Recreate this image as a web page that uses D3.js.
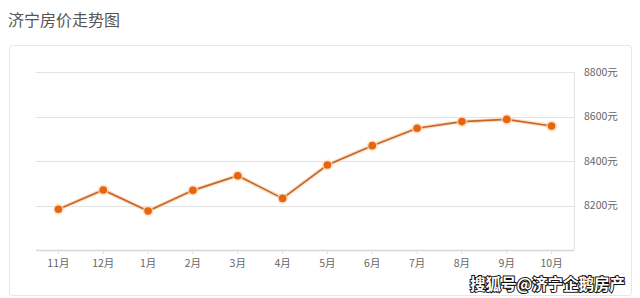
<!DOCTYPE html>
<html>
<head>
<meta charset="utf-8">
<script src="https://cdn.jsdelivr.net/npm/d3@7"></script>
<style>
  body { margin: 0; background: #fff; }
  svg { display: block; }
</style>
</head>
<body>
<svg id="chart" width="640" height="298"></svg>
<script>
// data
const months = ["11月", "12月", "1月", "2月", "3月", "4月", "5月", "6月", "7月", "8月", "9月", "10月"];
const prices = [8183, 8270, 8175, 8268, 8334, 8232, 8382, 8469, 8547, 8577, 8587, 8557];
const yTicks = [8200, 8400, 8600, 8800];
const title = "济宁房价走势图";
const watermark = "搜狐号@济宁企鹅房产";

let margin = {top: 72, right: 66, bottom: 48, left: 36},
  width = 640 - margin.left - margin.right,
  height = 298 - margin.top - margin.bottom;

let svg = d3.select("#chart");

svg.append("text")
  .attr("x", 8)
  .attr("y", 26)
  .style("font-family", "'Noto Sans CJK SC', sans-serif")
  .style("font-size", "16px")
  .style("fill", "#555")
  .text(title);

// card
svg.append("rect")
  .attr("x", 9.5)
  .attr("y", 45.5)
  .attr("width", 622)
  .attr("height", 250)
  .attr("rx", 3)
  .style("fill", "#fff")
  .style("stroke", "#e6e6e6");

let g = svg.append("g")
  .attr("transform", "translate(" + margin.left + "," + margin.top + ")");

let x = d3.scaleBand().domain(months).range([0, width]);
let y = d3.scaleLinear().domain([8000, 8800]).range([height, 0]);

// grid lines
g.selectAll(".grid")
  .data(yTicks)
  .enter().append("line")
  .attr("class", "grid")
  .attr("x1", 0)
  .attr("x2", width)
  .attr("y1", d => Math.round(y(d)) + 0.5)
  .attr("y2", d => Math.round(y(d)) + 0.5)
  .style("stroke", "#e3e3e3");

// right side line
g.append("line")
  .attr("x1", width + 0.5).attr("x2", width + 0.5)
  .attr("y1", 0).attr("y2", height)
  .style("stroke", "#e3e3e3");

// y labels
let yAxis = d3.axisRight(y).tickValues(yTicks).tickSize(0).tickPadding(10)
  .tickFormat(d => d + "元");
let yG = g.append("g")
  .attr("transform", "translate(" + width + ",0)")
  .call(yAxis);
yG.select(".domain").remove();

// x axis
let xAxis = d3.axisBottom(x).tickSize(4).tickPadding(6);
let xG = g.append("g")
  .attr("transform", "translate(0," + height + ")")
  .call(xAxis);
xG.select(".domain")
  .attr("d", "M0,0.5H" + width)
  .style("stroke", "#d6d6d6")
  .style("stroke-width", 1.5);
xG.selectAll(".tick line").style("stroke", "#ddd");

svg.selectAll(".tick text")
  .style("font-family", "'Noto Sans CJK SC', sans-serif")
  .style("font-size", "10.5px")
  .style("fill", "#666");

let px = d => x(d) + x.bandwidth() / 2;
let data = months.map((m, i) => ({m: m, v: prices[i]}));

let line = d3.line().x(d => px(d.m)).y(d => y(d.v));

// soft halo under the line
g.append("path")
  .datum(data)
  .attr("d", line)
  .style("fill", "none")
  .style("stroke", "#f8d2ae")
  .style("stroke-width", 4)
  .style("opacity", 0.7);

g.append("path")
  .datum(data)
  .attr("d", line)
  .style("fill", "none")
  .style("stroke", "#c8662a")
  .style("stroke-width", 1.6);

g.selectAll(".halo")
  .data(data)
  .enter().append("circle")
  .attr("cx", d => px(d.m))
  .attr("cy", d => y(d.v))
  .attr("r", 5.5)
  .style("fill", "#fbd9b8")
  .style("opacity", 0.7);

g.selectAll(".dot")
  .data(data)
  .enter().append("circle")
  .attr("cx", d => px(d.m))
  .attr("cy", d => y(d.v))
  .attr("r", 3.8)
  .style("fill", "#e8650f");

// watermark
svg.append("text")
  .attr("x", 625)
  .attr("y", 290)
  .style("text-anchor", "end")
  .style("font-family", "'Noto Sans CJK SC', sans-serif")
  .style("font-size", "15.5px")
  .style("font-weight", "bold")
  .style("fill", "#fff")
  .style("stroke", "#111")
  .style("stroke-width", 2)
  .style("paint-order", "stroke")
  .text(watermark);
</script>
</body>
</html>
